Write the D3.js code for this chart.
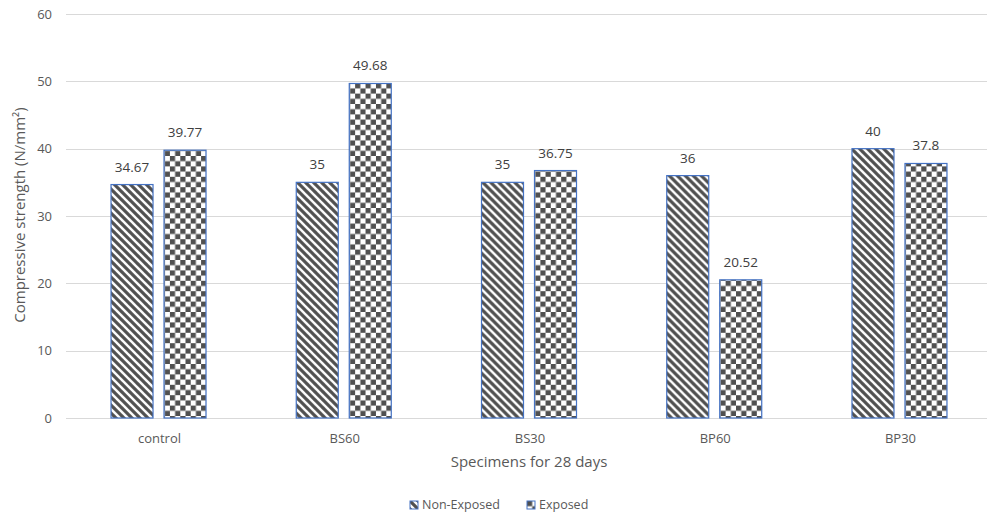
<!DOCTYPE html>
<html><head><meta charset="utf-8">
<script src="https://cdn.jsdelivr.net/npm/d3@7"></script>
<style>
body{margin:0;background:#fff;}
svg{display:block;font-family:"Open Sans",sans-serif;}
</style></head>
<body><svg id="c" width="987" height="517"></svg>
<script>
const categories = ["control","BS60","BS30","BP60","BP30"];
const seriesNames = ["Non-Exposed","Exposed"];
const nonExposed = [34.67,35,35,36,40];
const exposed = [39.77,49.68,36.75,20.52,37.8];
const yTicks = [0,10,20,30,40,50,60];

const svg = d3.select("#c");
const defs = svg.append("defs");
// stripe pattern (wide downward diagonal)
const ps = defs.append("pattern").attr("id","stripe").attr("patternUnits","userSpaceOnUse")
  .attr("width",8).attr("height",8);
ps.append("rect").attr("width",8).attr("height",8).attr("fill","#fff");
ps.append("path").attr("d","M-1,-1 L9,9 M-9,-1 L1,9 M7,-1 L17,9").attr("stroke","#505050").attr("stroke-width",3.2);
// checker pattern
const pc = defs.append("pattern").attr("id","checker").attr("patternUnits","userSpaceOnUse")
  .attr("width",10.4).attr("height",10.4);
pc.append("rect").attr("width",10.4).attr("height",10.4).attr("fill","#fff");
pc.append("rect").attr("width",5.2).attr("height",5.2).attr("fill","#505050");
pc.append("rect").attr("x",5.2).attr("y",5.2).attr("width",5.2).attr("height",5.2).attr("fill","#505050");

const fills = ["url(#stripe)","url(#checker)"];
const plotL = 65.9, plotR = 992.1, plotT = 14, plotB = 418;
const y = d3.scaleLinear().domain([0,60]).range([plotB,plotT]);
const x0 = d3.scaleBand().domain(categories).range([plotL,plotR]).padding(0);
const bw = x0.bandwidth();
const x1 = d3.scaleBand().domain(seriesNames).range([(bw-95)/2,(bw+95)/2]).paddingInner(11/53).paddingOuter(0);

// gridlines
svg.append("g").selectAll("line").data(yTicks).join("line")
  .attr("x1",66).attr("x2",987).attr("y1",d=>Math.round(y(d))+0.5).attr("y2",d=>Math.round(y(d))+0.5)
  .attr("stroke","#d9d9d9").attr("stroke-width",1);
// y tick labels
svg.append("g").selectAll("text").data(yTicks).join("text")
  .attr("x",52).attr("y",d=>y(d)).attr("dy","0.35em").attr("text-anchor","end")
  .attr("font-size",13).attr("fill","#595959").text(d=>d);

const data = categories.map((c,i)=>({c, vals:[nonExposed[i],exposed[i]]}));
const g = svg.append("g").selectAll("g").data(data).join("g")
  .attr("transform",d=>`translate(${x0(d.c)},0)`);
g.selectAll("rect").data(d=>d.vals.map((v,j)=>({v,s:seriesNames[j],j}))).join("rect")
  .attr("x",d=>x1(d.s)).attr("width",x1.bandwidth())
  .attr("y",d=>y(d.v)).attr("height",d=>y(0)-y(d.v))
  .attr("fill",d=>fills[d.j]).attr("stroke","#4472c4").attr("stroke-width",1.2);
g.selectAll("text").data(d=>d.vals.map((v,j)=>({v,s:seriesNames[j]}))).join("text")
  .attr("x",d=>x1(d.s)+x1.bandwidth()/2).attr("y",d=>y(d.v)-13)
  .attr("text-anchor","middle").attr("font-size",13.5).attr("fill","#404040").text(d=>d.v);

// x labels
svg.append("g").selectAll("text").data(categories).join("text")
  .attr("x",d=>x0(d)+bw/2+1).attr("y",438).attr("dy","0.35em").attr("text-anchor","middle")
  .attr("font-size",13).attr("fill","#595959").text(d=>d);

// axis titles
svg.append("text").attr("x",529).attr("y",462).attr("dy","0.35em").attr("text-anchor","middle")
  .attr("font-size",15).attr("fill","#595959").text("Specimens for 28 days");
svg.append("text").attr("transform","translate(20,215) rotate(-90)").attr("dy","0.35em")
  .attr("text-anchor","middle").attr("font-size",15).attr("fill","#595959").text("Compressive strength (N/mm²)");

// legend
const legX = [410,527];
const lg = svg.append("g").selectAll("g").data(seriesNames).join("g")
  .attr("transform",(d,i)=>`translate(${legX[i]},501)`);
lg.append("rect").attr("width",8).attr("height",8).attr("fill",(d,i)=>fills[i])
  .attr("stroke","#4472c4").attr("stroke-width",1);
lg.append("text").attr("x",12).attr("y",4).attr("dy","0.35em").attr("font-size",12.5)
  .attr("fill","#595959").text(d=>d);
</script></body></html>
